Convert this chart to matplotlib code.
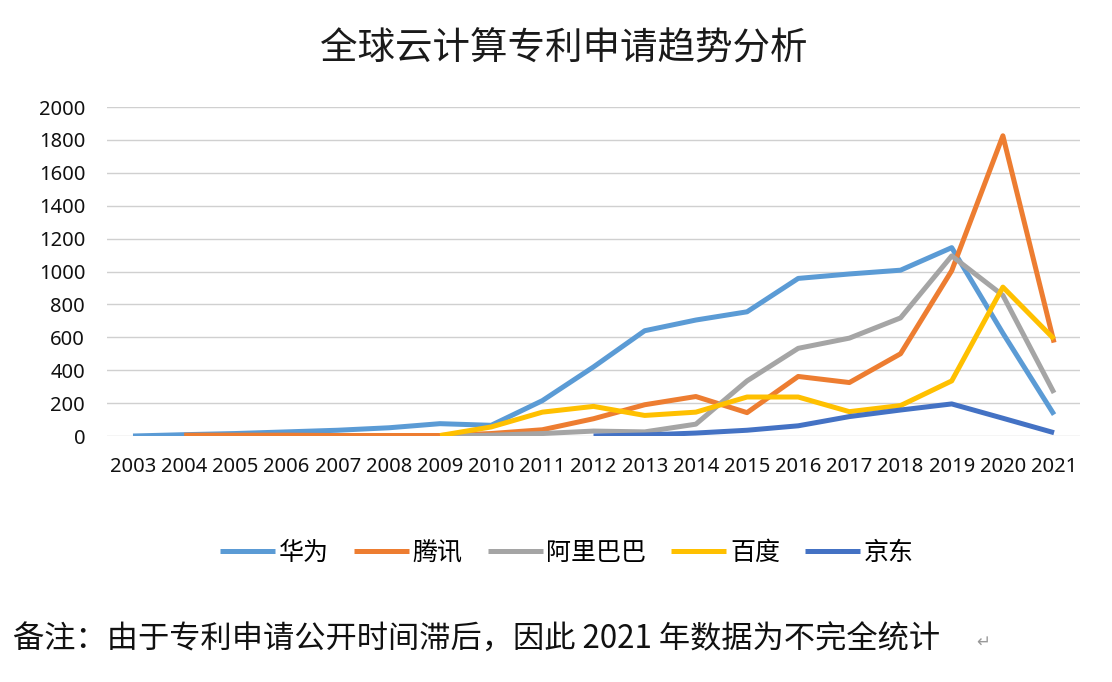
import matplotlib
matplotlib.use("Agg")
import matplotlib.pyplot as plt
import numpy as np

plt.rcParams['font.family'] = ['Noto Sans CJK SC', 'DejaVu Sans']

years = [str(y) for y in range(2003, 2022)]
nan = np.nan
huawei  = [0, 8, 15, 25, 35, 50, 75, 65, 215, 420, 640, 705, 755, 958, 985, 1008, 1145, 625, 130]
tencent = [nan, 5, 5, 5, 3, 3, 3, 15, 38, 105, 190, 240, 142, 362, 325, 500, 1005, 1825, 568]
alibaba = [nan, nan, nan, nan, nan, nan, 0, 5, 15, 30, 25, 72, 335, 533, 595, 718, 1095, 855, 262]
baidu   = [nan, nan, nan, nan, nan, nan, 3, 55, 145, 180, 125, 145, 237, 237, 148, 185, 335, 905, 590]
jd      = [nan, nan, nan, nan, nan, nan, nan, nan, nan, 0, 6, 18, 35, 62, 118, 158, 195, 108, 20]

series = [("华为", huawei, "#5B9BD5"),
          ("腾讯", tencent, "#ED7D31"),
          ("阿里巴巴", alibaba, "#A5A5A5"),
          ("百度", baidu, "#FFC000"),
          ("京东", jd, "#4472C4")]
yticks = list(range(0, 2001, 200))

title = "全球云计算专利申请趋势分析"
note = "备注：由于专利申请公开时间滞后，因此 2021 年数据为不完全统计"

fig = plt.figure(figsize=(11.12, 6.82), dpi=100)
ax = fig.add_axes([0.0966, 0.3607, 0.8743, 0.4824])
x = np.arange(len(years))
for name, vals, col in series:
    ax.plot(x, vals, color=col, lw=3.6, label=name,
            solid_joinstyle='round', solid_capstyle='butt')

ax.set_xlim(-0.5, len(years) - 0.5)
ax.set_ylim(0, 2000)
ax.set_yticks(yticks)
ax.set_yticklabels([str(v) for v in yticks], fontsize=14.5, family=['Noto Sans', 'DejaVu Sans'])
ax.set_xticks(x)
ax.set_xticklabels(years, fontsize=14.5, family=['Noto Sans', 'DejaVu Sans'])
ax.tick_params(axis='both', length=0, colors='#111111')
ax.tick_params(axis='y', pad=16)
ax.tick_params(axis='x', pad=15)
ax.grid(axis='y', color='#D0D0D0', lw=1.0)
ax.set_axisbelow(True)
for s in ax.spines.values():
    s.set_visible(False)

fig.text(0.507, 1 - 49 / 682, title, ha='center', va='center', fontsize=27,
         weight='light', color='#1a1a1a')

fig.legend(loc='center', bbox_to_anchor=(0.51, 1 - 553 / 682), ncol=5,
           frameon=False, fontsize=18, handlelength=2.2, handletextpad=0.15,
           columnspacing=1.0)

fig.text(0.012, 1 - 640 / 682, note, ha='left', va='center', fontsize=22.5,
         color='#111111')
fig.text(0.878, 1 - 642 / 682, "↵", ha='left', va='center', fontsize=12,
         color='#999999', family=['DejaVu Sans'])

fig.savefig("out.png", dpi=100)
